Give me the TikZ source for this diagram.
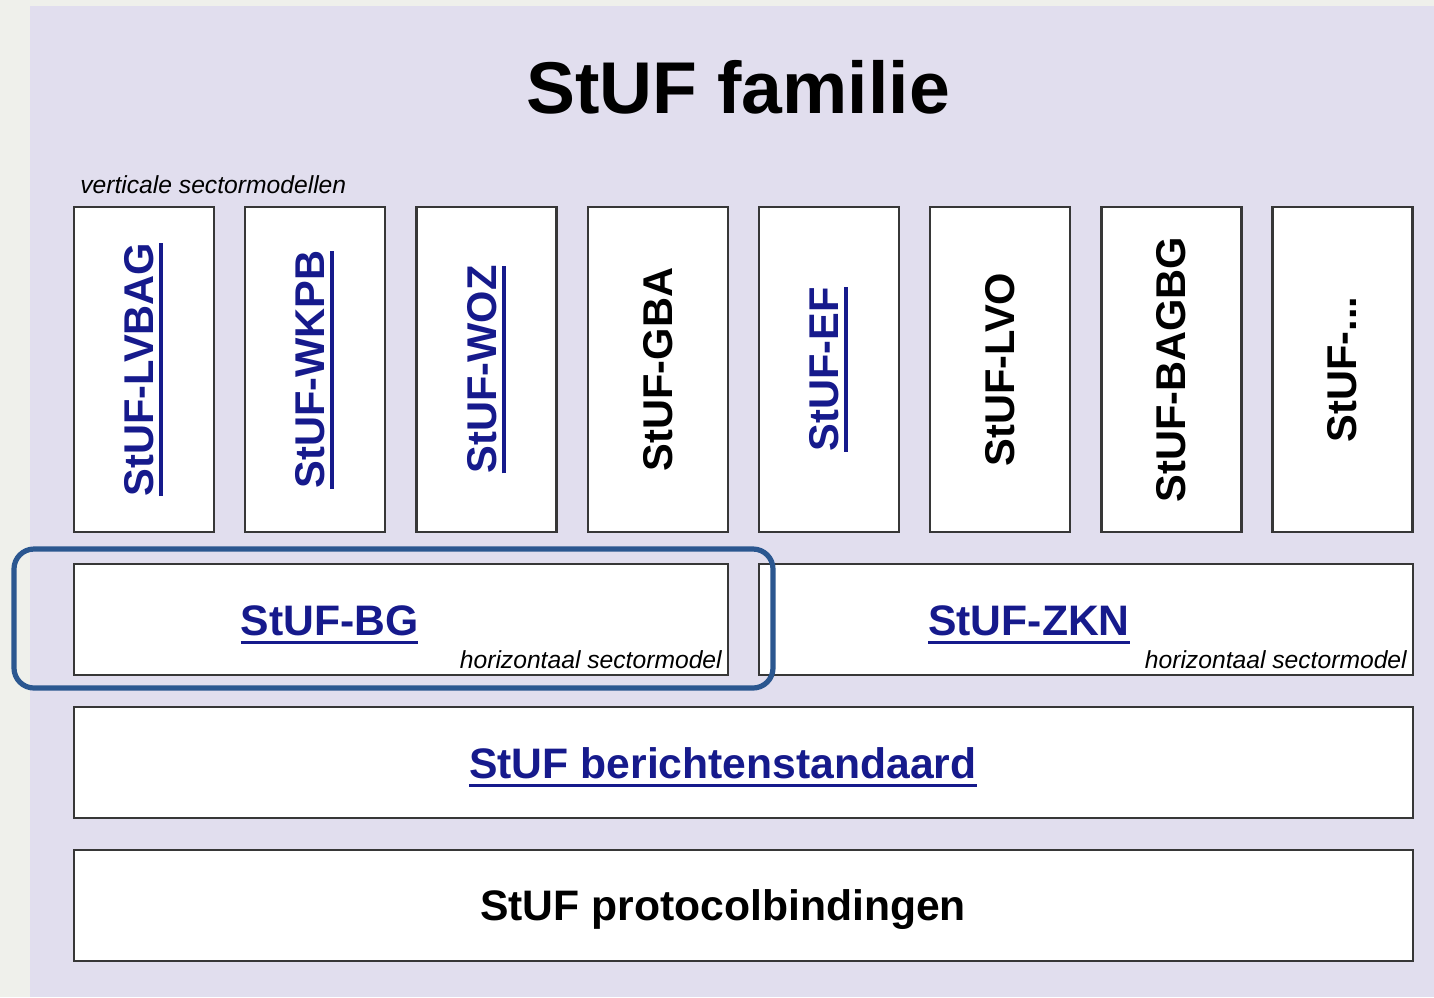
\documentclass[tikz,border=0pt]{standalone}
\usepackage{fontspec}
\setmainfont{Liberation Sans}
\definecolor{outerbg}{RGB}{239,240,235}
\definecolor{panel}{RGB}{225,222,238}
\definecolor{hilite}{RGB}{43,87,144}
\definecolor{linkblue}{RGB}{22,26,140}
\definecolor{edge}{RGB}{55,55,55}
\newcommand\lnk[1]{\setbox0\hbox{#1}\leavevmode\rlap{\rule[-0.22em]{\wd0}{0.09em}}\box0}
\tikzset{
  px/.style={x=0.75pt,y=-0.75pt},
  vbox/.style={draw=edge,line width=1.6pt,fill=white,minimum width=105pt,minimum height=243.75pt,inner sep=0pt},
  hbox/.style={draw=edge,line width=1.6pt,fill=white,minimum width=490.5pt,minimum height=83.25pt,inner sep=0pt},
  wbox/.style={draw=edge,line width=1.6pt,fill=white,minimum width=1004.25pt,minimum height=83.25pt,inner sep=0pt},
  vlabel/.style={rotate=90,font=\bfseries\fontsize{31.2pt}{36pt}\selectfont,inner sep=0pt},
  blabel/.style={font=\bfseries\fontsize{32pt}{38pt}\selectfont,inner sep=0pt},
  link/.style={text=linkblue},
  note/.style={font=\itshape\fontsize{18.5pt}{22pt}\selectfont,inner sep=0pt},
  hl/.style={draw=hilite,line width=3.9pt,rounded corners=15pt,minimum width=569.25pt,minimum height=104.25pt,inner sep=0pt}
}
\begin{document}
\begin{tikzpicture}[px]
\useasboundingbox (0,0) rectangle (1434,997);
\fill[outerbg] (0,0) rectangle (1434,997);
\fill[panel] (30,6) rectangle (1434,997);
% title
\node[font=\bfseries\fontsize{55pt}{62pt}\selectfont,anchor=base,inner sep=0pt] (title) at (738,113) {StUF familie};
\node[note,anchor=base west] (vnote) at (80,193) {verticale sectormodellen};
% vertical sector models
\node[vbox] (v1) at (144,369.5) {};
\node[vbox] (v2) at (315,369.5) {};
\node[vbox] (v3) at (486.5,369.5) {};
\node[vbox] (v4) at (658,369.5) {};
\node[vbox] (v5) at (829,369.5) {};
\node[vbox] (v6) at (1000,369.5) {};
\node[vbox] (v7) at (1171.5,369.5) {};
\node[vbox] (v8) at (1342.5,369.5) {};
\node[vlabel,link] (l1) at (v1.center) {\lnk{StUF-LVBAG}};
\node[vlabel,link] (l2) at (v2.center) {\lnk{StUF-WKPB}};
\node[vlabel,link] (l3) at (v3.center) {\lnk{StUF-WOZ}};
\node[vlabel] (l4) at (v4.center) {StUF-GBA};
\node[vlabel,link] (l5) at (v5.center) {\lnk{StUF-EF}};
\node[vlabel] (l6) at (v6.center) {StUF-LVO};
\node[vlabel] (l7) at (v7.center) {StUF-BAGBG};
\node[vlabel] (l8) at (v8.center) {StUF-...};
% horizontal sector models
\node[hbox] (bg) at (401,619.5) {};
\node[hbox] (zkn) at (1086,619.5) {};
\node[blabel,link,anchor=base] (bgl) at (329.5,635) {\lnk{StUF-BG}};
\node[blabel,link,anchor=base] (zknl) at (1029,635) {\lnk{StUF-ZKN}};
\node[note,anchor=base east] (bgn) at (722,668) {horizontaal sectormodel};
\node[note,anchor=base east] (zknn) at (1407,668) {horizontaal sectormodel};
% highlight
\node[hl] (hi) at (393.5,618.5) {};
% lower layers
\node[wbox] (ber) at (743.5,762.5) {};
\node[wbox] (prot) at (743.5,905.5) {};
\node[blabel,link,anchor=base] (berl) at (723,778) {\lnk{StUF berichtenstandaard}};
\node[blabel,anchor=base] (protl) at (723,920) {StUF protocolbindingen};
\end{tikzpicture}
\end{document}
